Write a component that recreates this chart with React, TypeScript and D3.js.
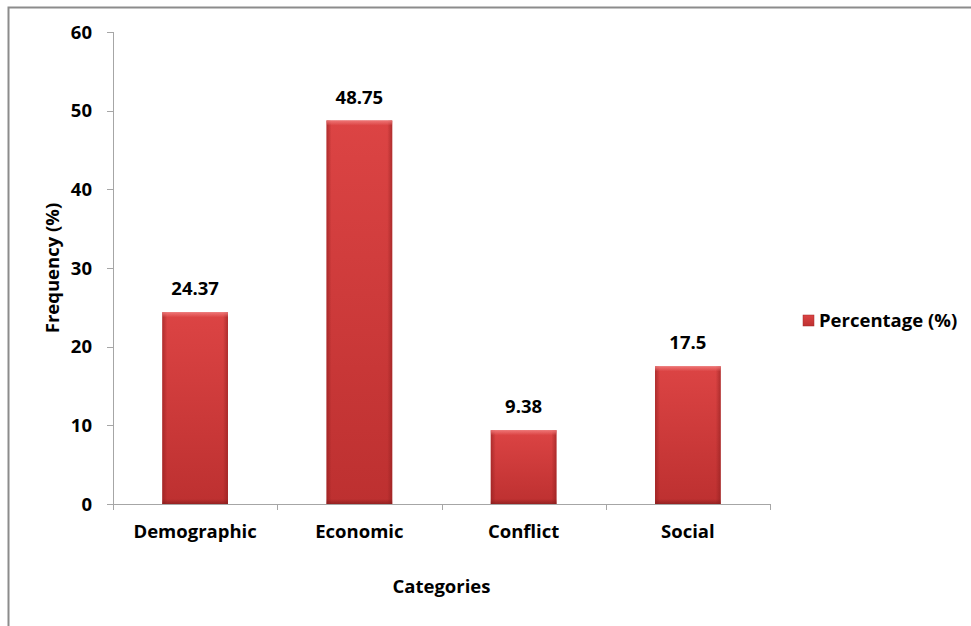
import React from "react";
import * as d3 from "d3";

const categories = ["Demographic", "Economic", "Conflict", "Social"];
const values = [24.37, 48.75, 9.38, 17.5];
const valueLabels = ["24.37", "48.75", "9.38", "17.5"];
const yTicks = [0, 10, 20, 30, 40, 50, 60];
const seriesName = "Percentage (%)";

const W = 971;
const H = 626;
const FONT = "'Open Sans', Lato, sans-serif";
const FS = 18.5;

export default function App() {
  const left = 113, right = 770, top = 32, bottom = 504;
  const x = d3.scaleBand<string>().domain(categories).range([left, right]).paddingInner(0.6).paddingOuter(0.3);
  const xb = d3.scaleBand<string>().domain(categories).range([left, right]);
  const y = d3.scaleLinear().domain([0, 60]).range([bottom, top]);
  const bw = x.bandwidth();
  const bev = 5;

  return (
    <svg width={W} height={H} style={{ position: "absolute", left: 0, top: 0 }}>
      <defs>
        <linearGradient id="barV" x1="0" y1="0" x2="0" y2="1">
          <stop offset="0%" stopColor="#dc4444" />
          <stop offset="100%" stopColor="#bd3030" />
        </linearGradient>
        <linearGradient id="edgeL" x1="0" y1="0" x2="1" y2="0">
          <stop offset="0%" stopColor="#8a1c1c" stopOpacity={0.55} />
          <stop offset="100%" stopColor="#8a1c1c" stopOpacity={0} />
        </linearGradient>
        <linearGradient id="edgeR" x1="1" y1="0" x2="0" y2="0">
          <stop offset="0%" stopColor="#8a1c1c" stopOpacity={0.55} />
          <stop offset="100%" stopColor="#8a1c1c" stopOpacity={0} />
        </linearGradient>
        <linearGradient id="edgeT" x1="0" y1="0" x2="0" y2="1">
          <stop offset="0%" stopColor="#f07a7a" stopOpacity={0.9} />
          <stop offset="100%" stopColor="#f07a7a" stopOpacity={0} />
        </linearGradient>
        <linearGradient id="edgeB" x1="0" y1="1" x2="0" y2="0">
          <stop offset="0%" stopColor="#7a1818" stopOpacity={0.6} />
          <stop offset="100%" stopColor="#7a1818" stopOpacity={0} />
        </linearGradient>
      </defs>
      <rect x={0} y={0} width={W} height={H} fill="#ffffff" />
      {/* chart border */}
      <rect x={8.5} y={7.5} width={W + 10} height={H + 10} fill="none" stroke="#8c8c8c" strokeWidth={2} />

      {/* y axis */}
      <line x1={left + 0.5} x2={left + 0.5} y1={top} y2={bottom} stroke="#a6a6a6" strokeWidth={1} />
      {yTicks.map((t) => (
        <g key={t}>
          <line x1={left - 6} x2={left} y1={Math.round(y(t)) + 0.5} y2={Math.round(y(t)) + 0.5} stroke="#a6a6a6" />
          <text x={92} y={y(t)} dy="0.36em" textAnchor="end" fontFamily={FONT} fontWeight={700} fontSize={FS} fill="#000">
            {t}
          </text>
        </g>
      ))}

      {/* bars */}
      {categories.map((c, i) => {
        const bx = x(c)!;
        const by = y(values[i]);
        const bh = bottom - by;
        return (
          <g key={c}>
            <rect x={bx} y={by} width={bw} height={bh} fill="url(#barV)" />
            <rect x={bx} y={by} width={bev} height={bh} fill="url(#edgeL)" />
            <rect x={bx + bw - bev} y={by} width={bev} height={bh} fill="url(#edgeR)" />
            <rect x={bx} y={by} width={bw} height={bev} fill="url(#edgeT)" />
            <rect x={bx} y={bottom - bev} width={bw} height={bev} fill="url(#edgeB)" />
            <text x={bx + bw / 2} y={by - 17} textAnchor="middle" fontFamily={FONT} fontWeight={700} fontSize={FS} fill="#000">
              {valueLabels[i]}
            </text>
          </g>
        );
      })}

      {/* x axis */}
      <line x1={left} x2={right} y1={bottom + 0.5} y2={bottom + 0.5} stroke="#a6a6a6" />
      {[...categories.map((c) => xb(c)!), right].map((px, i) => (
        <line key={i} x1={Math.round(px) + 0.5} x2={Math.round(px) + 0.5} y1={bottom} y2={bottom + 6} stroke="#a6a6a6" />
      ))}
      {categories.map((c) => (
        <text key={c} x={xb(c)! + xb.bandwidth() / 2} y={538} textAnchor="middle" fontFamily={FONT} fontWeight={700} fontSize={FS} fill="#000">
          {c}
        </text>
      ))}

      {/* axis titles */}
      <text x={(left + right) / 2} y={593} textAnchor="middle" fontFamily={FONT} fontWeight={700} fontSize={FS} fill="#000">
        Categories
      </text>
      <text transform={`translate(59, ${(top + bottom) / 2}) rotate(-90)`} textAnchor="middle" fontFamily={FONT} fontWeight={700} fontSize={FS} fill="#000">
        Frequency (%)
      </text>

      {/* legend */}
      <rect x={803} y={315} width={11} height={11} fill="url(#barV)" stroke="#a32a2a" strokeWidth={0.5} />
      <text x={819} y={327} fontFamily={FONT} fontWeight={700} fontSize={FS} fill="#000">
        {seriesName}
      </text>
    </svg>
  );
}
